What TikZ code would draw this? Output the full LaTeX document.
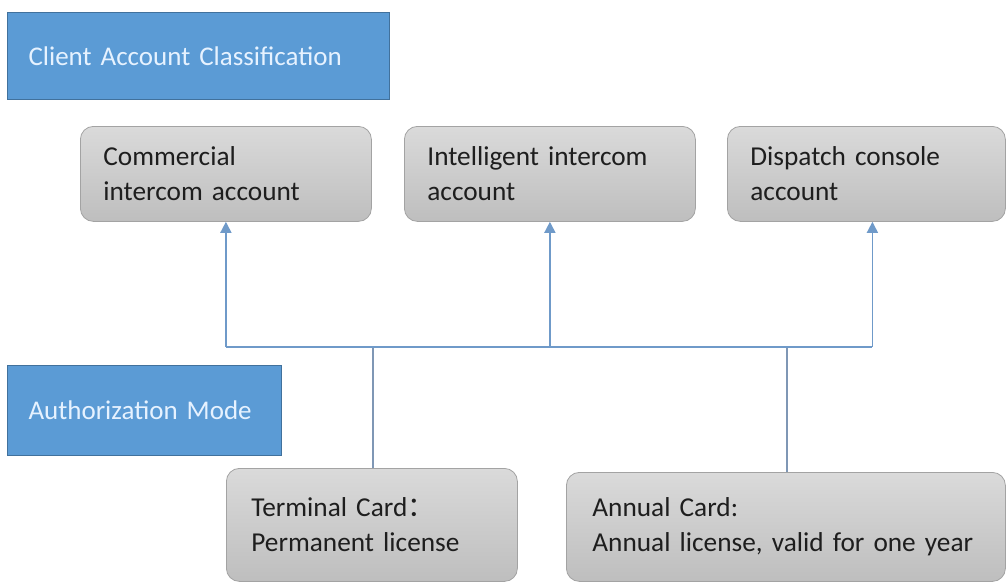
\documentclass[tikz,border=0pt]{standalone}
\usepackage{fontspec}
\setmainfont{Carlito}
\newfontfamily\cjk{Noto Sans CJK SC}
\usetikzlibrary{arrows.meta,calc}
\definecolor{bluefill}{HTML}{5B9BD5}
\definecolor{blueedge}{HTML}{41719C}
\definecolor{bluetext}{HTML}{E6F2FF}
\definecolor{graytop}{HTML}{DADADA}
\definecolor{graybot}{HTML}{BEBEBE}
\definecolor{grayedge}{HTML}{A3A3A3}
\definecolor{conncol}{HTML}{6F9AC9}
\definecolor{stemcol}{HTML}{7F97B5}
\definecolor{darktext}{HTML}{1E1E1E}
\tikzset{
  header/.style={draw=blueedge, line width=1pt, fill=bluefill, text=bluetext,
    anchor=north west, inner ysep=0pt, align=left,
    font=\fontsize{27}{32}\selectfont},
  card/.style={draw=grayedge, line width=0.8pt, rounded corners=13pt,
    top color=graytop, bottom color=graybot, text=darktext,
    anchor=north west, inner ysep=0pt, align=left,
    font=\fontsize{27.3}{35}\selectfont},
  conn/.style={draw=conncol, line width=1.6pt},
  stem/.style={draw=stemcol, line width=1.5pt},
  arr/.style={conn, -{Triangle[length=11pt,width=11pt]}}
}
\begin{document}
\begin{tikzpicture}[x=1pt,y=-1pt]
\useasboundingbox (0,0) rectangle (1006,582);
\node[header, minimum width=382pt, minimum height=87pt, text width=340pt, inner xsep=21pt] (cac) at (7,12) {Client Account Classification};
\node[header, minimum width=274pt, minimum height=90pt, text width=232pt, inner xsep=21pt] (am) at (7,365) {Authorization Mode};
\node[card, minimum width=291pt, minimum height=95pt, text width=245pt, inner xsep=23pt] (a1) at (80,126) {Commercial\\intercom account};
\node[card, minimum width=291pt, minimum height=95pt, text width=245pt, inner xsep=23pt] (a2) at (404,126) {Intelligent intercom\\account};
\node[card, minimum width=278pt, minimum height=95pt, text width=232pt, inner xsep=23pt] (a3) at (727,126) {Dispatch console\\account};
\node[card, minimum width=291pt, minimum height=113pt, text width=241pt, inner xsep=25pt] (tc) at (226,468) {Terminal Card{\cjk ：}\\Permanent license};
\node[card, minimum width=439pt, minimum height=109pt, text width=387pt, inner xsep=26pt] (ac) at (566,472) {Annual Card:\\Annual license, valid for one year};
\coordinate (bus) at (0,347);
\coordinate (tcx) at (373,0);
\coordinate (acx) at (787,0);
\coordinate (a3in) at ($(a3.south)+(6,0)$);
\draw[stem] (tcx |- tc.north) -- (tcx |- bus);
\draw[stem] (acx |- ac.north) -- (acx |- bus);
\draw[conn] (a1.south |- bus) -- (a3in |- bus);
\draw[arr] (a1.south |- bus) -- (a1.south);
\draw[arr] (a2.south |- bus) -- (a2.south);
\draw[arr] (a3in |- bus) -- (a3in);
\end{tikzpicture}
\end{document}
